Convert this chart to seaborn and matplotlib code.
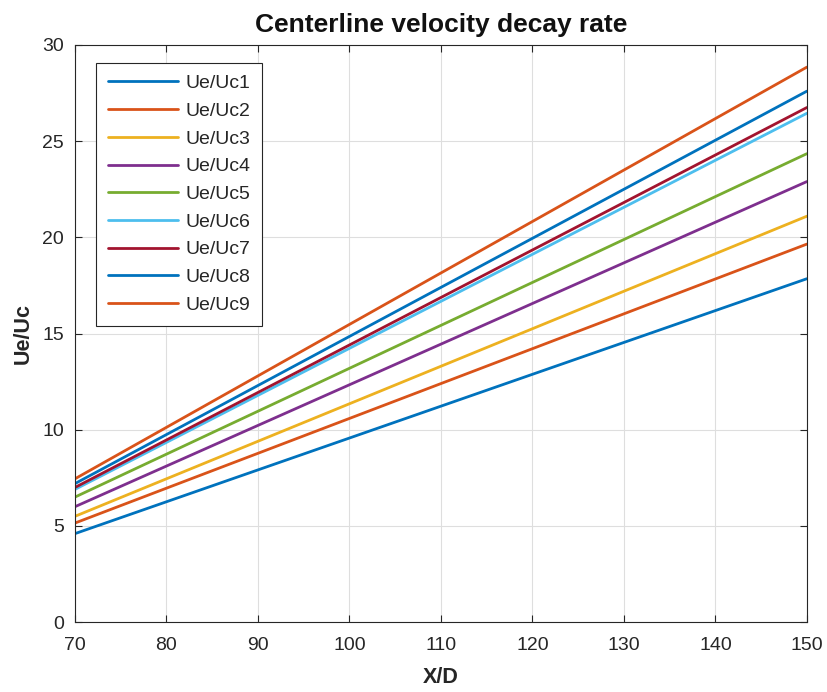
import matplotlib
matplotlib.use("Agg")
import matplotlib.pyplot as plt
import seaborn as sns
import pandas as pd

# Centerline velocity decay: Ue/Uc grows linearly with X/D for each case
x_d = [70, 150]
ue_uc1 = [4.6, 17.85]
ue_uc2 = [5.15, 19.65]
ue_uc3 = [5.5, 21.1]
ue_uc4 = [6.0, 22.9]
ue_uc5 = [6.5, 24.35]
ue_uc6 = [6.9, 26.45]
ue_uc7 = [7.0, 26.75]
ue_uc8 = [7.2, 27.6]
ue_uc9 = [7.45, 28.85]

series_names = [f"Ue/Uc{i}" for i in range(1, 10)]
series_values = [ue_uc1, ue_uc2, ue_uc3, ue_uc4, ue_uc5,
                 ue_uc6, ue_uc7, ue_uc8, ue_uc9]

colors = ["#0072BD", "#D95319", "#EDB120", "#7E2F8E", "#77AC30",
          "#4DBEEE", "#A2142F", "#0072BD", "#D95319"]

rows = []
for name, vals in zip(series_names, series_values):
    for xv, yv in zip(x_d, vals):
        rows.append({"X/D": xv, "Ue/Uc": yv, "series": name})
df = pd.DataFrame(rows)

sns.set_theme(style="whitegrid")
plt.rcParams["font.family"] = ["Liberation Sans", "DejaVu Sans"]

fig = plt.figure(figsize=(8.27, 6.92), dpi=100)
ax = fig.add_axes([0.0907, 0.101, 0.885, 0.834])

sns.lineplot(data=df, x="X/D", y="Ue/Uc", hue="series",
             hue_order=series_names, palette=colors, linewidth=2.0,
             ax=ax, legend=True)

ax.set_xlim(70, 150)
ax.set_ylim(0, 30)
ax.set_xticks(range(70, 151, 10))
ax.set_yticks(range(0, 31, 5))
ax.tick_params(axis="both", direction="in", length=5, width=0.8,
               labelsize=14, colors="#262626",
               top=True, right=True, bottom=True, left=True,
               labeltop=False, labelright=False)
ax.tick_params(axis="x", pad=11)
ax.tick_params(axis="y", pad=8)
ax.grid(True, color="#dedede", linewidth=0.8)
ax.set_facecolor("white")
for sp in ax.spines.values():
    sp.set_visible(True)
    sp.set_color("#262626")
    sp.set_linewidth(0.8)

ax.set_title("Centerline velocity decay rate", fontsize=19,
             fontweight="bold", pad=9, color="#111111")
ax.set_xlabel("X/D", fontsize=15.5, fontweight="bold", color="#262626",
              labelpad=9)
ax.set_ylabel("Ue/Uc", fontsize=15.5, fontweight="bold", color="#262626",
              labelpad=6)

leg = ax.legend(loc="upper left", bbox_to_anchor=(0.0287, 0.969),
                borderaxespad=0, fontsize=14, frameon=True, fancybox=False,
                handlelength=3.6, labelspacing=0.52, borderpad=0.6,
                handletextpad=0.4)
leg.get_frame().set_edgecolor("#262626")
leg.get_frame().set_linewidth(0.8)
leg.get_frame().set_alpha(1)

fig.savefig("out.png", dpi=100)
